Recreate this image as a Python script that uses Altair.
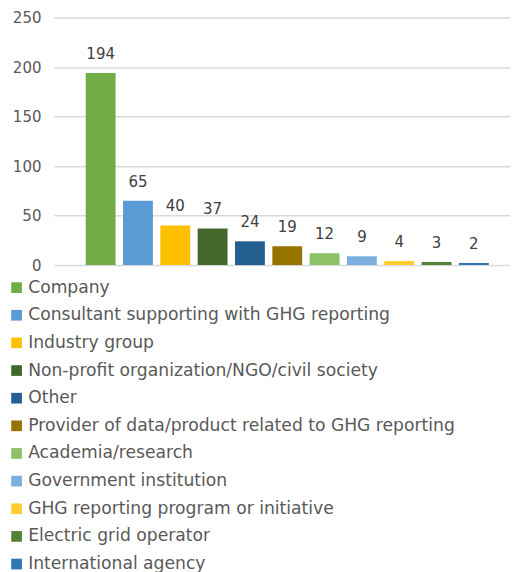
import altair as alt
import pandas as pd

categories = [
    "Company",
    "Consultant supporting with GHG reporting",
    "Industry group",
    "Non-profit organization/NGO/civil society",
    "Other",
    "Provider of data/product related to GHG reporting",
    "Academia/research",
    "Government institution",
    "GHG reporting program or initiative",
    "Electric grid operator",
    "International agency",
]
counts = [194, 65, 40, 37, 24, 19, 12, 9, 4, 3, 2]
colors = [
    "#70AD47", "#5B9BD5", "#FFC000", "#43682B", "#255E91", "#997300",
    "#8CC168", "#7CAFDD", "#FFCD33", "#548235", "#2E75B6",
]
y_ticks = [0, 50, 100, 150, 200, 250]

FONT = "DejaVu Sans, sans-serif"

df = pd.DataFrame({"category": categories, "count": counts})

x_enc = alt.X(
    "category:N",
    sort=categories,
    axis=None,
    scale=alt.Scale(paddingInner=0.2, paddingOuter=0.71, align=0.6),
)
y_enc = alt.Y(
    "count:Q",
    scale=alt.Scale(domain=[0, 250], nice=False),
    axis=alt.Axis(
        values=y_ticks,
        title=None,
        domain=False,
        ticks=False,
        labelPadding=13,
        labelFont=FONT,
        labelFontSize=15,
        labelColor="#595959",
        gridColor="#d9d9d9",
        gridWidth=1.5,
    ),
)

bars = alt.Chart(df).mark_bar().encode(
    x=x_enc,
    y=y_enc,
    color=alt.Color(
        "category:N",
        sort=categories,
        scale=alt.Scale(domain=categories, range=colors),
        legend=alt.Legend(
            title=None,
            orient="none",
            legendX=-46,
            legendY=262,
            direction="vertical",
            symbolType="square",
            symbolSize=115,
            symbolStrokeWidth=0,
            labelFont=FONT,
            labelFontSize=17.2,
            labelColor="#595959",
            labelLimit=600,
            labelOffset=3,
            rowPadding=9.7,
            padding=0,
        ),
    ),
)

labels = alt.Chart(df).mark_text(
    baseline="alphabetic",
    dy=-14,
    font=FONT,
    fontSize=15,
    color="#404040",
).encode(
    x=x_enc,
    y=alt.Y("count:Q"),
    text=alt.Text("count:Q"),
)

chart = (
    alt.layer(bars, labels)
    .properties(
        width=457,
        height=248,
        padding={"left": 0, "top": 2, "right": 0, "bottom": 0},
        background="white",
    )
    .configure_view(stroke=None)
)

chart.save("out.html", embed_options={"renderer": "svg", "actions": False})
